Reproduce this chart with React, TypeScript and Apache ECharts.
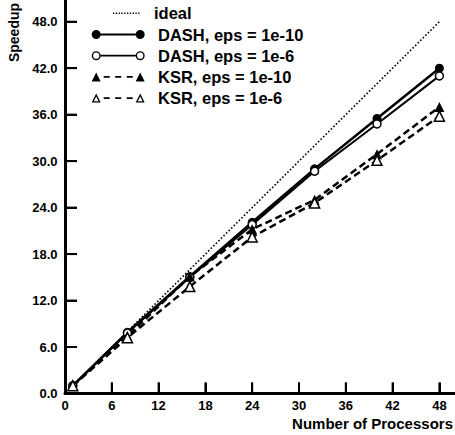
import React, { useEffect, useRef } from 'react';
import * as echarts from 'echarts';

const processors = [1, 8, 16, 24, 32, 40, 48];
const idealSpeedup = [1, 8, 16, 24, 32, 40, 48];
const dash1e10 = [1.0, 7.9, 15.1, 22.1, 29.0, 35.5, 42.0];
const dash1e6 = [1.0, 7.8, 15.0, 21.8, 28.7, 34.8, 41.0];
const ksr1e10 = [1.0, 7.4, 15.1, 21.2, 25.0, 30.9, 37.0];
const ksr1e6 = [1.0, 7.2, 13.8, 20.2, 24.6, 30.1, 35.8];
const xTicks = [0, 6, 12, 18, 24, 30, 36, 42, 48];
const yTicks = [0, 6, 12, 18, 24, 30, 36, 42, 48];
const tickStep = 6;
const axisMax = 54; // last tick (54) falls just outside the visible page
const names = ['ideal', 'DASH, eps = 1e-10', 'DASH, eps = 1e-6', 'KSR, eps = 1e-10', 'KSR, eps = 1e-6'];

const FONT = '"Liberation Sans", Arial, Helvetica, sans-serif';

// legend icon paths (53 x 9 box)
const circ = (cx: number, r: number, sweep: number) =>
  `M${cx - r},4.5 A${r},${r} 0 1,${sweep} ${cx + r},4.5 A${r},${r} 0 1,${sweep} ${cx - r},4.5 Z `;
const tri = (cx: number) => `M${cx - 4.5},9 L${cx},0 L${cx + 4.5},9 Z `;
const triHole = (cx: number) => `M${cx - 2.4},7.7 L${cx + 2.4},7.7 L${cx},2.9 Z `;
const solidSeg = 'M9,3.6 L44,3.6 L44,5.4 L9,5.4 Z ';
const dashSeg = [[12, 18], [23.5, 29.5], [35, 41]].map(([a, b]) => `M${a},3.7 L${b},3.7 L${b},5.3 L${a},5.3 Z `).join('');
const dotsPath = Array.from({ length: 10 }, (_, i) => `M${(i * 2.8).toFixed(1)},0 h1.3 v1.4 h-1.3 Z `).join('');

const iconDashFilled = 'path://' + circ(4.5, 4.5, 1) + circ(48.5, 4.5, 1) + solidSeg;
const iconDashOpen = 'path://' + circ(4.5, 4.5, 1) + circ(4.5, 3.1, 0) + circ(48.5, 4.5, 1) + circ(48.5, 3.1, 0) + solidSeg;
const iconKsrFilled = 'path://' + tri(4.5) + tri(48.5) + dashSeg;
const iconKsrOpen = 'path://' + tri(4.5) + triHole(4.5) + tri(48.5) + triHole(48.5) + dashSeg;
const iconIdeal = 'path://' + dotsPath;

const pairs = (ys: number[]) => processors.map((p, i) => [p, ys[i]]);

export default function App() {
  const ref = useRef<HTMLDivElement>(null);
  useEffect(() => {
    if (!ref.current) return;
    const chart = echarts.init(ref.current, null, { renderer: 'svg' });
    const labelStyle = { color: '#000', fontFamily: FONT, fontWeight: 'bold' as const, fontSize: 13 };
    const legendText = { color: '#000', fontFamily: FONT, fontWeight: 'bold' as const, fontSize: 16.5, lineHeight: 18 };
    // x: 0 at 65px, 7.8 px/unit; y: 0 at 393.5px, 7.746 px/unit
    const gridWidth = axisMax * 7.8;
    const gridHeight = axisMax * 7.746;
    const titles = [
      {
        type: 'text', x: 14.2, y: 32.5, rotation: Math.PI / 2,
        style: { text: 'Speedup', fill: '#000', fontFamily: FONT, fontWeight: 'bold', fontSize: 14, align: 'center', verticalAlign: 'middle' },
      },
      {
        type: 'text', x: 453, y: 423,
        style: { text: 'Number of Processors', fill: '#000', fontFamily: FONT, fontWeight: 'bold', fontSize: 15, align: 'right', verticalAlign: 'middle' },
      },
    ];
    chart.setOption({
      animation: false,
      backgroundColor: '#fff',
      grid: { left: 65, top: 393.5 - gridHeight, width: gridWidth, height: gridHeight, containLabel: false, outerBoundsMode: 'none' },
      xAxis: {
        type: 'value', min: 0, max: axisMax, interval: tickStep,
        axisLine: { show: true, onZero: false, lineStyle: { color: '#000', width: 3 } },
        axisTick: { show: true, inside: true, length: 11, lineStyle: { color: '#000', width: 2 } },
        axisLabel: { ...labelStyle, margin: 5.5, showMaxLabel: false },
        splitLine: { show: false },
      },
      yAxis: {
        type: 'value', min: 0, max: axisMax, interval: tickStep,
        axisLine: { show: true, onZero: false, lineStyle: { color: '#000', width: 3 } },
        axisTick: { show: true, inside: true, length: 12, lineStyle: { color: '#000', width: 2 } },
        axisLabel: { ...labelStyle, margin: 7.5, showMaxLabel: false, formatter: (v: number) => v.toFixed(1) },
        splitLine: { show: false },
      },
      legend: [
        {
          orient: 'vertical', left: 113, top: 4.3, padding: 0, itemWidth: 26.5, itemHeight: 1.4,
          symbolKeepAspect: true,
          selectedMode: false, textStyle: { ...legendText, padding: [0, 0, 0, 9.5] },
          itemStyle: { color: '#000', borderWidth: 0 },
          data: [{ name: names[0], icon: iconIdeal }],
        },
        {
          orient: 'vertical', left: 91.7, top: 25.5, padding: 0, itemWidth: 53, itemHeight: 9, itemGap: 3.2,
          symbolKeepAspect: true,
          selectedMode: false, textStyle: { ...legendText, padding: [0, 0, 0, 8.3] },
          itemStyle: { color: '#000', borderWidth: 0 },
          data: [
            { name: names[1], icon: iconDashFilled },
            { name: names[2], icon: iconDashOpen },
            { name: names[3], icon: iconKsrFilled },
            { name: names[4], icon: iconKsrOpen },
          ],
        },
      ],
      graphic: titles,
      series: [
        {
          name: names[0], type: 'line', data: pairs(idealSpeedup), symbol: 'none',
          itemStyle: { color: '#000' },
          lineStyle: { color: '#000', width: 1.6, type: [1.6, 2] },
          emphasis: { disabled: true },
        },
        {
          name: names[1], type: 'line', data: pairs(dash1e10), symbol: 'circle', symbolSize: 9,
          itemStyle: { color: '#000' },
          lineStyle: { color: '#000', width: 2.5 },
          emphasis: { disabled: true },
        },
        {
          name: names[2], type: 'line', data: pairs(dash1e6), symbol: 'circle', symbolSize: 8,
          itemStyle: { color: '#fff', borderColor: '#000', borderWidth: 1.5 },
          lineStyle: { color: '#000', width: 2 },
          emphasis: { disabled: true },
        },
        {
          name: names[3], type: 'line', data: pairs(ksr1e10), symbol: 'triangle', symbolSize: 10,
          itemStyle: { color: '#000' },
          lineStyle: { color: '#000', width: 2.5, type: [7, 4] },
          emphasis: { disabled: true },
        },
        {
          name: names[4], type: 'line', data: pairs(ksr1e6), symbol: 'triangle', symbolSize: 10,
          itemStyle: { color: '#fff', borderColor: '#000', borderWidth: 1.5 },
          lineStyle: { color: '#000', width: 2.5, type: [7, 4] },
          emphasis: { disabled: true },
        },
      ],
    });
    // tick marks placed through the chart's own scales
    const tickMarks: any[] = [];
    xTicks.forEach((v) => {
      const p = chart.convertToPixel({ gridIndex: 0 }, [v, 0]) as number[];
      tickMarks.push({ type: 'line', z: 50, shape: { x1: p[0], y1: p[1], x2: p[0], y2: p[1] - 11 }, style: { stroke: '#000', lineWidth: 2 } });
    });
    yTicks.forEach((v) => {
      const p = chart.convertToPixel({ gridIndex: 0 }, [0, v]) as number[];
      tickMarks.push({ type: 'line', z: 50, shape: { x1: p[0], y1: p[1], x2: p[0] + 12, y2: p[1] }, style: { stroke: '#000', lineWidth: 2 } });
    });
    chart.setOption({ graphic: [...titles, ...tickMarks] });
    return () => chart.dispose();
  }, []);
  return <div ref={ref} style={{ position: 'absolute', left: 0, top: 0, width: 455, height: 435 }} />;
}
